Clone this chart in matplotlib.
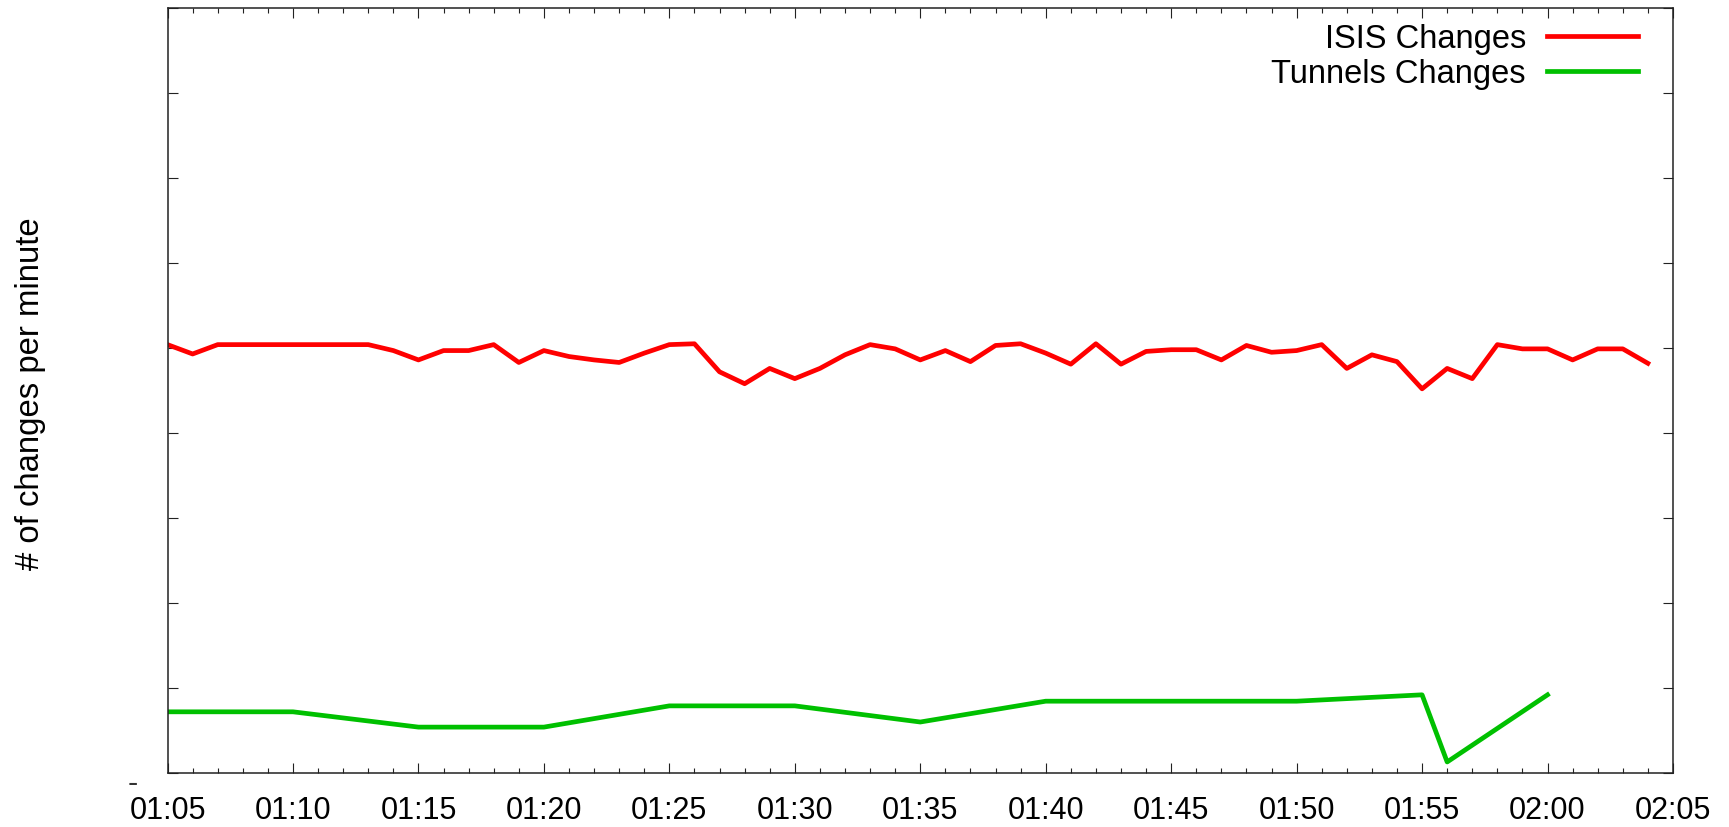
import numpy as np
import pandas as pd
import matplotlib
matplotlib.use("Agg")
import matplotlib.pyplot as plt
import matplotlib.dates as mdates

plt.rcParams['font.family'] = ['Liberation Sans', 'DejaVu Sans']

# ISIS changes, one sample per minute from 01:05 to 02:04
isis_start = "2000-01-01 01:05"
isis = [50.4, 49.3, 50.4, 50.4, 50.4, 50.4, 50.4, 50.4, 50.4, 49.7,
        48.6, 49.7, 49.7, 50.4, 48.3, 49.7, 49.0, 48.6, 48.3, 49.4,
        50.4, 50.5, 47.2, 45.8, 47.6, 46.4, 47.6, 49.2, 50.4, 49.9,
        48.6, 49.7, 48.4, 50.3, 50.5, 49.4, 48.1, 50.5, 48.1, 49.6,
        49.8, 49.8, 48.6, 50.3, 49.5, 49.7, 50.4, 47.6, 49.2, 48.4,
        45.2, 47.6, 46.4, 50.4, 49.9, 49.9, 48.6, 49.9, 49.9, 48.2]

# tunnel changes
tun_times = ["01:05", "01:10", "01:15", "01:20", "01:25", "01:30", "01:35",
             "01:40", "01:45", "01:50", "01:55", "01:56", "02:00"]
tunnels = [7.2, 7.2, 5.4, 5.4, 7.9, 7.9, 6.0,
           8.45, 8.45, 8.45, 9.2, 1.3, 9.2]

xtick_labels = ["01:05", "01:10", "01:15", "01:20", "01:25", "01:30",
                "01:35", "01:40", "01:45", "01:50", "01:55", "02:00", "02:05"]

isis_t = pd.date_range(isis_start, periods=len(isis), freq="min")
tun_t = pd.to_datetime(["2000-01-01 " + t for t in tun_times])
xt = pd.to_datetime(["2000-01-01 " + t for t in xtick_labels])

fig = plt.figure(figsize=(17.29, 8.28), dpi=100)
ax = fig.add_axes([0.0969, 0.0652, 0.8707, 0.9239])

ax.plot(isis_t, isis, color="#ff0000", lw=3.4, label="ISIS Changes")
ax.plot(tun_t, tunnels, color="#00c000", lw=3.4, label="Tunnels Changes")

ax.set_xlim(xt[0], xt[-1])
ax.set_ylim(0, 90)
ax.set_xticks(xt)
ax.set_xticklabels(xtick_labels)
ax.xaxis.set_minor_locator(mdates.MinuteLocator())
ax.set_yticks(np.arange(0, 91, 10))
ax.set_yticklabels([])

ax.tick_params(which="both", direction="in", top=True, right=True,
               width=0.8, color="#222222")
ax.tick_params(which="major", length=7.2, labelsize=22, pad=16)
ax.tick_params(which="minor", length=3.6)
for s in ax.spines.values():
    s.set_linewidth(1.1)
    s.set_color("#222222")

fig.text(31 / 1729, 1 - 394 / 828, "# of changes per minute", rotation=90,
         ha="center", va="center", fontsize=23.7)
fig.text(133 / 1729, 1 - 792 / 828, "-", ha="center", va="baseline",
         fontsize=22, color="#333333")

ax.legend(loc="upper right", bbox_to_anchor=(0.977, 0.98), frameon=False,
          markerfirst=False, fontsize=23.5, handlelength=2.8,
          handletextpad=0.65, labelspacing=0.12, borderpad=0, borderaxespad=0)

fig.savefig("out.png", dpi=100)
